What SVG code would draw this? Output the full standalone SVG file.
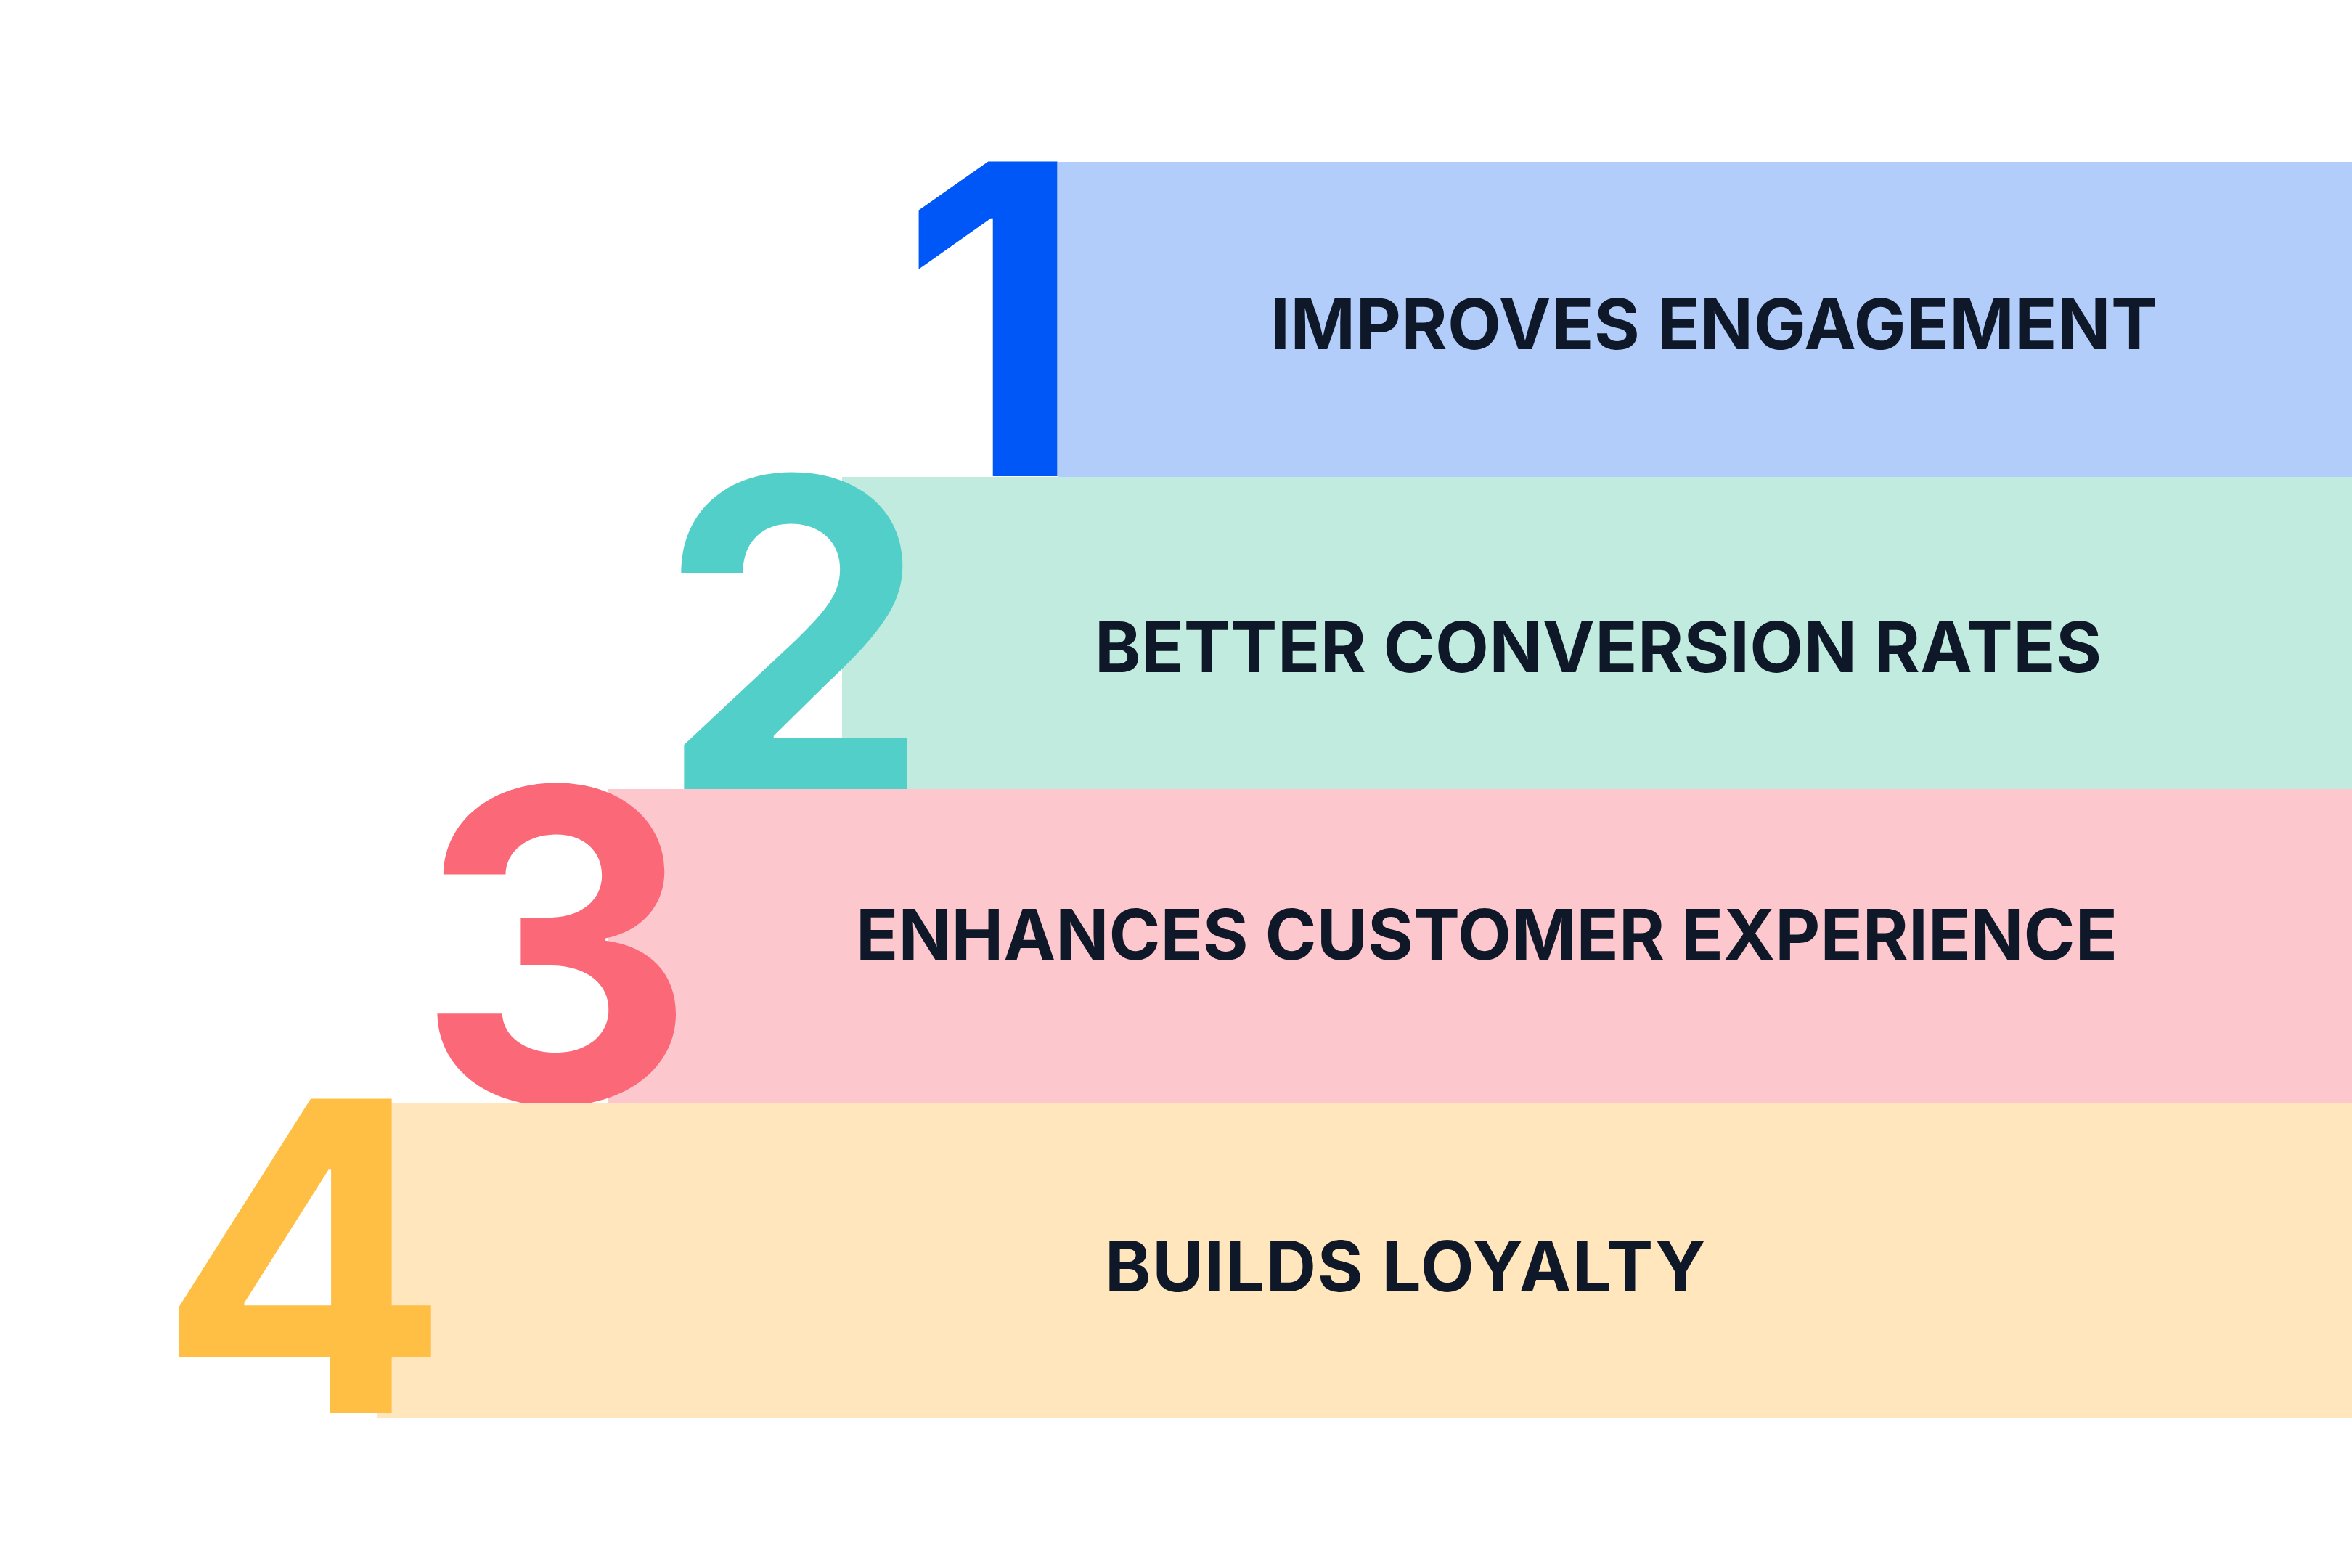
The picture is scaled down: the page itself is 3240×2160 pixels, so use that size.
<svg xmlns="http://www.w3.org/2000/svg" width="3240" height="2160" viewBox="0 0 3240 2160">
<style>
.num{font-family:Inter,"Liberation Sans",sans-serif;font-weight:700;font-size:596px;text-anchor:middle}
.lbl{font-family:Inter,"Liberation Sans",sans-serif;font-weight:700;font-size:96px;fill:#0E1828}
</style>
<rect width="3240" height="2160" fill="#FFFFFF"/>
<g id="step1">
<rect x="1458" y="223" width="1782" height="434" fill="#B3CDFA"/>
<text class="num" x="1367" y="656" fill="#0057F7">1</text>
<text class="lbl" x="1750" y="481" textLength="1222" lengthAdjust="spacing">IMPROVES ENGAGEMENT</text>
</g>
<g id="step2">
<rect x="1160" y="657" width="2080" height="430" fill="#C0EBDE"/>
<text class="num" x="1094" y="1090" fill="#52CFC9">2</text>
<text class="lbl" x="1508" y="926" textLength="1387" lengthAdjust="spacing">BETTER CONVERSION RATES</text>
</g>
<g id="step3">
<rect x="838" y="1087" width="2402" height="433" fill="#FCC7CD"/>
<text class="num" x="766" y="1518" fill="#FB6877">3</text>
<text class="lbl" x="1179" y="1322" textLength="1738" lengthAdjust="spacing">ENHANCES CUSTOMER EXPERIENCE</text>
</g>
<g id="step4">
<rect x="519" y="1520" width="2721" height="433" fill="#FFE6BC"/>
<text class="num" x="419" y="1947" fill="#FFBF45">4</text>
<text class="lbl" x="1522" y="1779" textLength="828" lengthAdjust="spacing">BUILDS LOYALTY</text>
</g>
<g id="connectors"/>
</svg>
